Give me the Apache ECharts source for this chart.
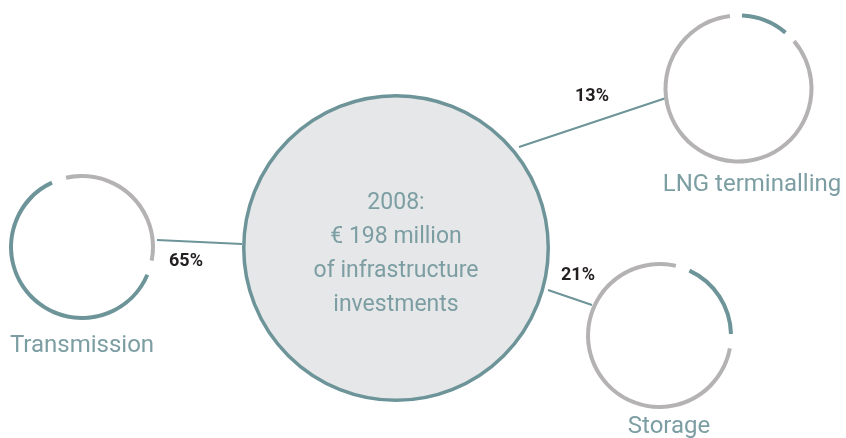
<!DOCTYPE html>
<html>
<head>
<meta charset="utf-8">
<script src="https://cdn.jsdelivr.net/npm/echarts@6/dist/echarts.min.js"></script>
<style>
  html, body { margin: 0; padding: 0; background: #ffffff; }
  #chart { width: 846px; height: 438px; }
</style>
</head>
<body>
<div id="chart"></div>
<script>
// Infrastructure investments, 2008
const year = 2008;
const totalInvestment = 198;           // € million
const segments = ['Transmission', 'LNG terminalling', 'Storage'];
const shares = [65, 13, 21];           // % of total

// Palette
const TEAL = '#6d9499';
const TEAL_TEXT = '#7c9ea3';
const GREY_RING = '#b4b2b3';
const CORE_FILL = '#e6e7e8';
const FONT = 'Roboto, "Open Sans", sans-serif';

// Layout for each segment ring (pixels)
const ringLayout = [
  { center: [82, 247],    r: 71,   startAngle: -17, pad: 12,   name: [82, 346],  pct: [186, 261], link: [[157, 240], [242, 244]] },
  { center: [738.5, 88.5], r: 73,  startAngle: 92,  pad: 9.5,  name: [752, 185], pct: [592, 96],  link: [[519, 147], [666, 98]] },
  { center: [659.5, 335.5], r: 71.5, startAngle: 71, pad: 11.5, name: [669, 427], pct: [578, 275], link: [[548, 290], [592, 305]] }
];
const core = { center: [396, 248], r: 154, textCenterY: 254 };

const chart = echarts.init(document.getElementById('chart'), null, { renderer: 'canvas' });

const series = [];

// Central circle: the total
series.push({
  type: 'pie',
  center: core.center,
  radius: [0, core.r - 1.75],
  silent: true,
  animation: false,
  clockwise: true,
  itemStyle: { color: CORE_FILL, borderColor: TEAL, borderWidth: 3.5 },
  label: { show: false },
  labelLine: { show: false },
  data: [{ name: 'Total', value: totalInvestment }],
  z: 3
});

// Segment rings: share in teal, remainder in grey
segments.forEach((seg, i) => {
  const L = ringLayout[i];
  series.push({
    type: 'pie',
    name: seg,
    center: L.center,
    radius: [L.r - 2, L.r + 2],
    startAngle: L.startAngle,
    clockwise: true,
    padAngle: L.pad,
    silent: true,
    animation: false,
    label: { show: false },
    labelLine: { show: false },
    data: [
      { name: seg, value: shares[i], itemStyle: { color: TEAL } },
      { name: 'Other', value: 100 - shares[i], itemStyle: { color: GREY_RING } }
    ],
    z: 3
  });
});

// Headline inside the central circle
const graphic = [{
  type: 'text',
  z: 10,
  silent: true,
  x: core.center[0],
  y: core.textCenterY,
  style: {
    text: `${year}:\n€ ${totalInvestment} million\nof infrastructure\ninvestments`,
    fill: TEAL_TEXT,
    font: `23px ${FONT}`,
    lineHeight: 34,
    align: 'center',
    verticalAlign: 'middle'
  }
}];

// Connectors, share labels and segment names
segments.forEach((seg, i) => {
  const L = ringLayout[i];
  graphic.push({
    type: 'line',
    z: 1,
    silent: true,
    shape: { x1: L.link[0][0], y1: L.link[0][1], x2: L.link[1][0], y2: L.link[1][1] },
    style: { stroke: TEAL, lineWidth: 2 }
  });
  graphic.push({
    type: 'text',
    z: 5,
    silent: true,
    x: L.pct[0], y: L.pct[1],
    style: {
      text: `${shares[i]}%`,
      fill: '#231f20',
      font: `bold 18px ${FONT}`,
      align: 'center',
      verticalAlign: 'middle'
    }
  });
  graphic.push({
    type: 'text',
    z: 5,
    silent: true,
    x: L.name[0], y: L.name[1],
    style: {
      text: seg,
      fill: TEAL_TEXT,
      font: `24px ${FONT}`,
      align: 'center',
      verticalAlign: 'middle'
    }
  });
});

chart.setOption({
  backgroundColor: '#ffffff',
  animation: false,
  series,
  graphic
});
</script>
</body>
</html>
